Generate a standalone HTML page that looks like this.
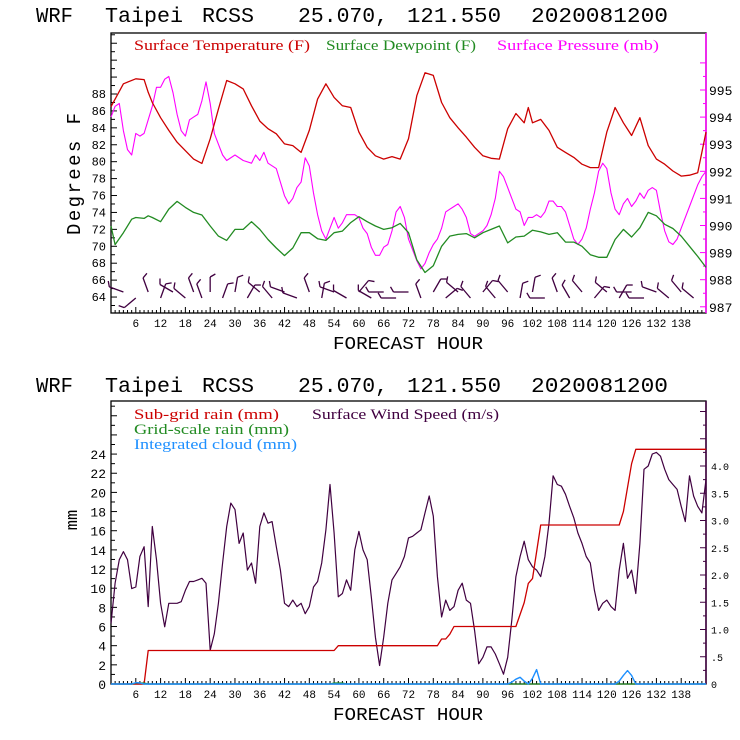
<!DOCTYPE html>
<html><head><meta charset="utf-8"><style>
html,body{margin:0;padding:0;background:#fff;}
svg{display:block;}
.t{font-family:"Liberation Mono",monospace;}
.s{font-family:"Liberation Serif",serif;}
</style></head><body>
<svg id="c" width="740" height="740" viewBox="0 0 740 740" xmlns="http://www.w3.org/2000/svg">
<rect width="740" height="740" fill="#fff"/>
<g id="top"></g>
<g id="bot"></g>
</svg>
<script>
// ---------- data: top chart ----------
var tHours=[0,3,6,8,9,10,12,14,16,18,20,22,24,26,28,30,32,34,36,38,40,42,44,46,48,50,52,54,56,58,60,62,64,66,68,70,72,74,76,78,80,82,84,86,88,90,92,94,96,98,100,101,102,104,106,108,110,112,114,116,118,120,122,124,126,128,130,132,134,136,138,140,142,144];
var tempF=[86.5,89.2,89.8,89.7,88.2,87,85.2,83.7,82.3,81.3,80.3,79.8,82.7,86.2,89.6,89.2,88.6,86.6,84.8,83.9,83.3,82.1,81.9,81.1,83.7,87.4,89.2,87.6,86.6,86.4,83.5,81.7,80.7,80.3,80.6,80.3,82.7,87.8,90.5,90.2,87,85.2,84,82.9,81.7,80.7,80.4,80.3,83.9,85.7,84.6,86.4,84.6,85,83.7,81.7,81.1,80.5,79.7,79.3,79.3,83.5,86.4,84.6,83.1,85.2,81.9,80.3,79.7,78.9,78.3,78.4,78.7,83.5];
var dHours=[0,1,3,5,6,8,9,10,12,14,16,18,20,22,24,26,28,30,32,34,36,38,40,42,44,46,48,50,52,54,56,58,60,62,64,66,68,70,72,74,76,78,80,82,84,86,88,90,92,94,96,98,100,102,104,106,108,110,112,114,116,118,120,122,124,126,128,130,132,134,136,138,140,142,144];
var dewF=[72.4,70.2,71.6,73.2,73.4,73.3,73.6,73.4,72.9,74.4,75.3,74.6,74,73.7,72.4,71.2,70.7,72,72,72.9,72,70.8,69.8,68.9,69.8,71.6,71.6,70.9,70.7,71.6,71.8,72.8,73.5,72.9,72.4,72,72.2,72.7,71.6,68.4,66.9,67.7,70,71.2,71.4,71.5,71,71.6,72,72.4,70.4,71.1,71.2,71.9,71.7,71.4,71.6,70.5,70.5,70,69,68.7,68.7,70.8,72,71.1,72.2,74,73.6,72.6,72.1,71.2,70,68.8,67.5];
var pHours=[0,1,2,3,4,5,6,7,8,9,10,11,12,13,14,15,16,17,18,19,20,21,22,23,24,25,26,27,28,30,32,34,35,36,37,38,40,42,43,44,45,46,47,48,49,50,51,52,53,54,55,56,57,58,59,60,61,62,63,64,65,66,67,68,69,70,71,72,74,75,76,77,78,79,80,81,82,83,84,85,86,87,88,89,90,91,92,93,94,95,96,97,98,99,100,101,102,103,104,105,106,107,108,109,110,112,113,114,115,116,117,118,119,120,121,122,123,124,125,126,127,128,129,130,131,132,133,134,135,136,137,138,140,142,143,144];
var presMb=[994.0,994.4,994.5,993.5,992.8,992.6,993.4,993.3,993.4,993.9,994.4,995.1,995.1,995.4,995.5,994.9,994.1,993.5,993.3,993.9,994.0,994.1,994.6,995.3,994.5,993.4,993,992.6,992.4,992.6,992.4,992.3,992.6,992.4,992.7,992.3,992.1,991.1,990.8,991,991.4,991.6,992.5,992.2,991.2,990.4,989.8,989.5,989.9,990.3,989.9,990.1,990.4,990.4,990.4,990.3,989.9,989.7,989.2,988.9,988.9,989.2,989.3,989.8,990.5,990.7,990.3,989.5,988.7,988.4,988.6,989,989.3,989.5,989.9,990.5,990.6,990.7,990.8,990.6,990.3,989.7,989.6,989.7,989.8,990,990.4,991,992,991.8,991.4,991,990.6,990.5,990,990.3,990.3,990.4,990.3,990.5,990.9,990.9,990.7,990.7,990.5,989.5,989.3,989.5,989.9,990.6,991.2,992,992.3,992.1,991.2,990.6,990.4,990.8,991,990.7,990.9,991.2,991.0,991.3,991.4,991.3,990.5,989.8,989.4,989.3,989.5,989.9,990.7,991.5,991.8,992];
var barbHours=[3,6,9,12,15,18,20,22,24,27,30,33,36,39,42,45,48,51,54,57,60,63,66,69,72,75,78,81,84,87,90,93,96,99,102,105,108,111,114,117,120,123,126,129,132,135,138,141];
var barbDir=[200,140,250,290,210,220,250,250,270,290,280,300,220,230,200,200,250,280,200,210,310,210,180,180,180,250,300,320,220,230,310,230,230,280,280,180,250,240,230,310,220,300,180,180,200,220,230,220];
// ---------- data: bottom chart ----------
var rHours=[0,8,9,54,55,79,80,81,82,83,98,100,101,102,104,123,124,126,127,144];
var subgridRain=[0,0,3.5,3.5,4.0,4.0,4.7,4.7,5.2,6.0,6.0,8.5,10.5,11,16.6,16.6,18,23,24.5,24.5];
var cHours=[0,5,6,7,8,96,97,98,99,100,101,102,103,104,122,123,124,125,126,127,144];
var cloudMm=[0,0,0.15,0.1,0,0,0.2,0.5,0.7,0.3,0,0.6,1.5,0,0,0.3,0.9,1.4,0.9,0,0];
var gHours=[0,5,6,8,9,53,54,56,57,144];
var gridRain=[0,0,0.1,0.1,0,0,0.1,0.1,0,0];
var wHours=[];for(var i=0;i<=144;i++)wHours.push(i);
var windMs=[1.11,1.85,2.28,2.43,2.28,1.75,1.78,2.34,2.52,1.42,2.89,2.28,1.48,1.05,1.48,1.48,1.48,1.51,1.72,1.88,1.88,1.91,1.94,1.85,0.62,0.92,1.48,2.22,2.89,3.32,3.2,2.58,2.77,2.09,2.22,1.85,2.89,3.14,2.95,2.98,2.52,2.09,1.48,1.42,1.54,1.42,1.48,1.29,1.42,1.78,1.88,2.22,2.83,3.66,2.77,1.6,1.66,1.91,1.72,2.46,2.8,2.46,2.28,1.6,0.86,0.34,0.86,1.48,1.91,2.03,2.15,2.34,2.68,2.71,2.77,2.83,3.14,3.45,3.08,1.97,1.23,1.54,1.35,1.42,1.72,1.85,1.54,1.48,0.98,0.37,0.49,0.68,0.68,0.55,0.37,0.18,0.49,1.17,1.97,2.34,2.62,2.28,2.15,2.09,1.97,2.34,2.95,3.82,3.66,3.63,3.48,3.26,3.05,2.77,2.58,2.34,2.22,1.72,1.35,1.48,1.54,1.42,1.35,2.09,2.58,1.94,2.09,1.66,2.58,3.94,4.0,4.22,4.25,4.18,3.94,3.75,3.66,3.57,3.26,2.98,3.82,3.45,3.26,3.14,3.75];
var xTicks=[6,12,18,24,30,36,42,48,54,60,66,72,78,84,90,96,102,108,114,120,126,132,138];
var tTicks=[64,66,68,70,72,74,76,78,80,82,84,86,88];
var pTicks=[987,988,989,990,991,992,993,994,995];
var mmTicks=[0,2,4,6,8,10,12,14,16,18,20,22,24];
var wTicks=[0,0.5,1,1.5,2,2.5,3,3.5,4];

var NS="http://www.w3.org/2000/svg";
function mk(parent,tag,attrs,txt){var e=document.createElementNS(NS,tag);for(var k in attrs)e.setAttribute(k,attrs[k]);if(txt!=null)e.textContent=txt;parent.appendChild(e);return e;}
var X0=111,X1=706;
function xs(h){return X0+h*(X1-X0)/144;}
function line(parent,hs,vs,yf,color,w){var d='';for(var i=0;i<hs.length;i++)d+=(i?'L':'M')+xs(hs[i]).toFixed(1)+','+yf(vs[i]).toFixed(1);return mk(parent,'path',{d:d,fill:'none',stroke:color,'stroke-width':w||1.2,'stroke-linejoin':'round'});}

var titleWords=[['WRF',36,37],['Taipei',105,78],['RCSS',202,52],['25.070,',298,90],['121.550',407,94],['2020081200',531,137]];
function frame(g,top,bot,rightColor,titleY){
  var tg=mk(g,'g',{});
  
  for(var i=0;i<titleWords.length;i++){mk(tg,'text',{x:titleWords[i][1],y:titleY,'font-size':21,class:'t',textLength:titleWords[i][2],lengthAdjust:'spacingAndGlyphs'},titleWords[i][0]);}
  var b=mk(g,'rect',{x:X0,y:top,width:X1-X0,height:bot-top,fill:'none',stroke:'#000','stroke-width':1.3});
  
  mk(g,'line',{x1:X1,y1:top,x2:X1,y2:bot,stroke:rightColor,'stroke-width':1.5});
  for(var h=1;h<144;h++){var l=(h%6==0)?6:3;mk(g,'line',{x1:xs(h),y1:bot,x2:xs(h),y2:bot-l,stroke:'#000','stroke-width':1});}
  for(var i=0;i<xTicks.length;i++){var tl=mk(g,'text',{x:xs(xTicks[i]),y:bot+14,'font-size':11,class:'t','text-anchor':'middle'},String(xTicks[i]));
    }
  var xt=mk(g,'text',{x:408,y:bot+36,'font-size':18,class:'t','text-anchor':'middle',textLength:150,lengthAdjust:'spacingAndGlyphs'},'FORECAST HOUR');
  
}

// ---------- top chart ----------
var G=document.getElementById('top');
var TT=33,TB=313;
function yT(t){return 94+(88-t)*8.46;}
function yP(p){return 90+(995-p)*27.1;}
frame(G,TT,TB,'#ff00ff',22);
for(var v=63;v<=95;v++){var y=yT(v);if(y<TT||y>TB)continue;mk(G,'line',{x1:X0,y1:y,x2:X0+(v%2==0?6:4),y2:y,stroke:'#000'});}
for(var i=0;i<tTicks.length;i++){var l=mk(G,'text',{x:106,y:yT(tTicks[i])+4,'font-size':12,class:'t','text-anchor':'end'},String(tTicks[i]));
  }
for(var p=987;p<=996;p+=0.5){var y=yP(p);if(y<TT||y>TB)continue;mk(G,'line',{x1:X1,y1:y,x2:X1-(p%1==0?6:3),y2:y,stroke:'#ff00ff'});}
for(var i=0;i<pTicks.length;i++){var l=mk(G,'text',{x:709,y:yP(pTicks[i])+5,'font-size':13,class:'t'},String(pTicks[i]));
  }
var yl=mk(G,'text',{x:0,y:0,'font-size':19,class:'t','text-anchor':'middle',textLength:122,lengthAdjust:'spacing',transform:'translate(80,174) rotate(-90)'},'Degrees F');

var lg=[['Surface Temperature (F)',134,176,'#cc0000','legend-temperature'],['Surface Dewpoint (F)',326,150,'#228b22','legend-dewpoint'],['Surface Pressure (mb)',497,162,'#ff00ff','legend-pressure']];
for(var i=0;i<lg.length;i++){var e=mk(G,'text',{x:lg[i][1],y:50,'font-size':15,class:'s',fill:lg[i][3],textLength:lg[i][2],lengthAdjust:'spacingAndGlyphs'},lg[i][0]);
  }
var s1=line(G,pHours,presMb,yP,'#ff00ff',1.1);

var s2=line(G,dHours,dewF,yT,'#228b22',1.3);

var s3=line(G,tHours,tempF,yT,'#cc0000',1.3);

for(var i=0;i<barbHours.length;i++){
  var bx=xs(barbHours[i]),by=(i%2==0)?292:298,a=barbDir[i]*Math.PI/180;
  var ex=bx+15*Math.cos(a),ey=by+15*Math.sin(a);
  var bg=mk(G,'g',{stroke:'#400040','stroke-width':1.3,fill:'none'});
  
  mk(bg,'line',{x1:bx,y1:by,x2:ex,y2:ey});
  var pa=a+Math.PI/3;mk(bg,'line',{x1:ex,y1:ey,x2:ex+6*Math.cos(pa),y2:ey+6*Math.sin(pa)});
}

// ---------- bottom chart ----------
var B=document.getElementById('bot');
var BT=401,BB=684;
function yR(m){return 684-m*9.58;}
function yW(w){return 684-w*54.5;}
frame(B,BT,BB,'#400040',392);
for(var v=0;v<=29;v++){var y=yR(v);if(y<BT)continue;mk(B,'line',{x1:X0,y1:y,x2:X0+(v%2==0?6:4),y2:y,stroke:'#000'});}
for(var i=0;i<mmTicks.length;i++){var l=mk(B,'text',{x:106,y:yR(mmTicks[i])+5,'font-size':13,class:'t','text-anchor':'end'},String(mmTicks[i]));
  }
for(var w=0;w<=5;w+=0.25){var y=yW(w);if(y<BT)continue;mk(B,'line',{x1:X1,y1:y,x2:X1-(w*2%1==0?6:3),y2:y,stroke:'#400040'});}
for(var i=0;i<wTicks.length;i++){var s=wTicks[i]==0?'0':(wTicks[i]<1?'.5':wTicks[i].toFixed(1));
  var l=mk(B,'text',{x:711,y:yW(wTicks[i])+4,'font-size':10,class:'t'},s);
  }
var yl2=mk(B,'text',{x:0,y:0,'font-size':17,class:'t','text-anchor':'middle',transform:'translate(77,520) rotate(-90)'},'mm');

var lg2=[['Sub-grid rain (mm)',134,419,145,'#cc0000','legend-subgrid-rain'],['Surface Wind Speed (m/s)',312,419,187,'#400040','legend-wind-speed'],['Grid-scale rain (mm)',134,434,155,'#228b22','legend-grid-rain'],['Integrated cloud (mm)',134,449,163,'#1e90ff','legend-cloud']];
for(var i=0;i<lg2.length;i++){var e=mk(B,'text',{x:lg2[i][1],y:lg2[i][2],'font-size':15,class:'s',fill:lg2[i][4],textLength:lg2[i][3],lengthAdjust:'spacingAndGlyphs'},lg2[i][0]);
  }
var b1=line(B,wHours,windMs,yW,'#400040',1.2);

var b2=line(B,rHours,subgridRain,yR,'#cc0000',1.3);

var b3=line(B,gHours,gridRain,yR,'#228b22',1.3);

var b4=line(B,cHours,cloudMm,yR,'#1e90ff',1.4);

</script>
</body></html>
